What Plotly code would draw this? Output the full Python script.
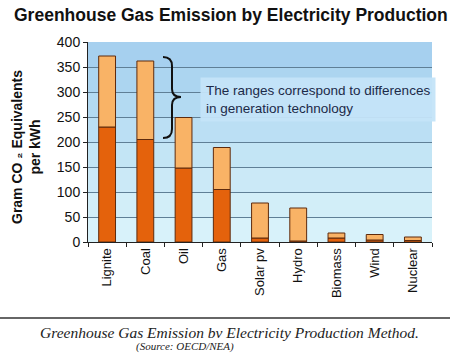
import plotly.graph_objects as go

categories = ["Lignite", "Coal", "Oil", "Gas", "Solar pv", "Hydro", "Biomass", "Wind", "Nuclear"]
low_values = [230, 205, 148, 105, 8, 2, 8, 4, 3]
high_values = [372, 362, 249, 189, 78, 68, 18, 15, 10]
range_values = [h - l for h, l in zip(high_values, low_values)]
y_ticks = [0, 50, 100, 150, 200, 250, 300, 350, 400]

W, H = 450, 353
ML, MR, MT, MB = 88, 18, 42, 111
PW, PH = W - ML - MR, H - MT - MB


def px(x):
    return (x - ML) / PW


def py(y):
    return (H - MB - y) / PH


fig = go.Figure()
fig.add_bar(x=categories, y=low_values, marker=dict(color="#e4620c", line=dict(color="#5e2a0c", width=1)),
            hoverinfo="y")
fig.add_bar(x=categories, y=range_values, base=low_values,
            marker=dict(color="#f9b366", line=dict(color="#5e2a0c", width=1)), hoverinfo="y")

shapes = []
# subtle vertical gradient of the back wall
bands = ["#a6d0ef", "#acd5f0", "#b3daf2", "#bbdff4", "#c3e5f5", "#cbe9f7", "#d2eef8", "#d8f2fa"]
n = len(bands)
for i, c in enumerate(bands):
    shapes.append(dict(type="rect", xref="paper", yref="paper", x0=0, x1=1,
                       y0=1 - (i + 1) / n, y1=1 - i / n, fillcolor=c, line=dict(width=0), layer="below"))
# brace
x0, xm, xt = px(163), px(172), px(181)
brace = (f"M {x0} {py(57)} Q {xm} {py(57)} {xm} {py(66)} L {xm} {py(89)} "
         f"Q {xm} {py(97)} {xt} {py(97)} Q {xm} {py(97)} {xm} {py(105)} "
         f"L {xm} {py(129)} Q {xm} {py(138)} {x0} {py(138)}")
shapes.append(dict(type="path", xref="paper", yref="paper", path=brace,
                   line=dict(color="#111111", width=2)))
# separator line
shapes.append(dict(type="line", xref="paper", yref="paper", x0=px(0), x1=px(W), y0=py(318), y1=py(318),
                   line=dict(color="#333333", width=1.5)))

annotations = [
    dict(text="<b>Greenhouse Gas Emission by Electricity Production</b>", xref="paper", yref="paper",
         x=px(231), y=py(15), xanchor="center", yanchor="middle", showarrow=False,
         font=dict(family="Liberation Sans, Arial", size=17.5, color="#111111")),
    dict(text="<b>Gram CO ₂ Equivalents<br>per kWh</b>", xref="paper", yref="paper", x=px(26), y=py(147),
         xanchor="center", yanchor="middle", textangle=-90, showarrow=False,
         font=dict(family="Liberation Sans, Arial", size=14, color="#111111")),
    dict(text="The ranges correspond to differences<br>in generation technology", xref="paper", yref="paper",
         x=px(200), y=py(77), xanchor="left", yanchor="top", align="left", showarrow=False,
         bgcolor="rgba(196,228,248,0.95)", borderpad=5,
         font=dict(family="Liberation Sans, Arial", size=13.5, color="#1c2a48")),
    dict(text="<i>Greenhouse Gas Emission bv Electricity Production Method.</i>", xref="paper", yref="paper",
         x=px(229), y=py(332), xanchor="center", yanchor="middle", showarrow=False,
         font=dict(family="Liberation Serif, serif", size=15.5, color="#222222")),
    dict(text="<i>(Source: OECD/NEA)</i>", xref="paper", yref="paper",
         x=px(185), y=py(346), xanchor="center", yanchor="middle", showarrow=False,
         font=dict(family="Liberation Serif, serif", size=11, color="#222222")),
]

fig.update_layout(
    width=W, height=H, margin=dict(l=ML, r=MR, t=MT, b=MB),
    barmode="overlay", bargap=0.56, showlegend=False,
    paper_bgcolor="white", plot_bgcolor="rgba(0,0,0,0)",
    shapes=shapes, annotations=annotations,
    font=dict(family="Liberation Sans, Arial", size=13, color="#111111"),
)
fig.update_xaxes(tickangle=-90, showline=True, linecolor="#222222", ticks="outside", ticklen=4,
                 tickson="boundaries", tickcolor="#222222", showgrid=False,
                 tickfont=dict(size=13, color="#111111"))
fig.update_yaxes(range=[0, 400], tickvals=y_ticks, showline=True, linecolor="#222222", ticks="outside",
                 ticklen=4, tickcolor="#222222", gridcolor="#5f7f96", gridwidth=1, zeroline=False,
                 tickfont=dict(size=14, color="#111111"))

fig.write_html("out.html")
